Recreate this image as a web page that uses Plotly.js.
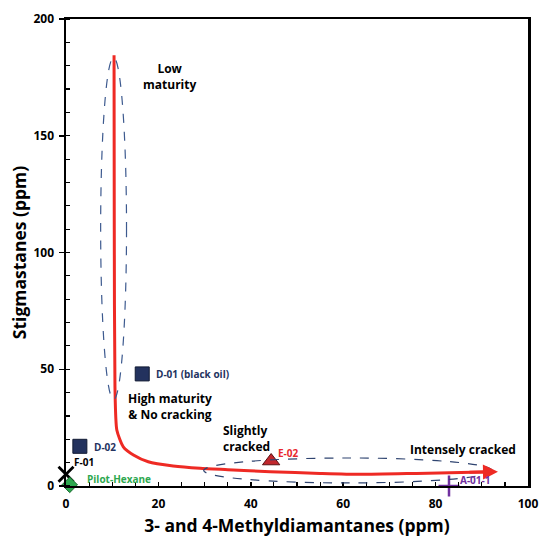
<!DOCTYPE html>
<html>
<head>
<meta charset="utf-8">
<script src="https://cdn.plot.ly/plotly-3.0.1.min.js"></script>
<style>html,body{margin:0;padding:0;background:#fff;}#chart{width:541px;height:537px;}</style>
</head>
<body>
<div id="chart"></div>
<script>
// Samples (points)
const samples = ['D-01 (black oil)', 'D-02', 'F-01', 'Pilot-Hexane', 'E-02', 'A-01-1'];
const methyldiamantanes = [16.5, 3.0, 0.0, 0.8, 44.4, 82.9];
const stigmastanes = [48.0, 17.0, 5.0, 0.5, 10.7, 0.0];

// Trend curve (red)
const trendX = [10.4, 10.45, 10.6, 11.0, 12.4, 14.6, 17.8, 23.2, 29.0, 35.0, 44.2, 55.0, 63.6, 75.9, 90.3];
const trendY = [184.5, 110, 42.4, 24, 16.8, 13.3, 10.4, 8.6, 7.6, 7.0, 6.1, 5.4, 5.0, 5.4, 6.0];

// Axis ticks
const xTicks = [0, 20, 40, 60, 80, 100];
const yTicks = [0, 50, 100, 150, 200];

const FONT = 'Open Sans, DejaVu Sans, sans-serif';
const navy = '#24335f';

const traces = [
  {x: trendX, y: trendY, mode: 'lines', line: {color: '#ee2a24', width: 3, shape: 'spline', smoothing: 0.6}, hoverinfo: 'skip', cliponaxis: false},
  {x: [methyldiamantanes[0], methyldiamantanes[1]], y: [stigmastanes[0], stigmastanes[1]], mode: 'markers',
   marker: {symbol: 'square', size: 14, color: '#23325e', line: {color: '#111a33', width: 1}}, cliponaxis: false},
  {x: [methyldiamantanes[2]], y: [stigmastanes[2]], mode: 'markers',
   marker: {symbol: 'x-thin', size: 15, color: '#000', line: {color: '#000', width: 2.8}}, cliponaxis: false},
  {x: [methyldiamantanes[3]], y: [stigmastanes[3]], mode: 'markers',
   marker: {symbol: 'diamond', size: 12, color: '#2ea84f', line: {color: '#1c6b31', width: 1}}, cliponaxis: false},
  {x: [methyldiamantanes[4]], y: [stigmastanes[4]], mode: 'markers',
   marker: {symbol: 'triangle-up', size: 15, color: '#c1272d', line: {color: '#5a0f12', width: 1}}, cliponaxis: false},
  {x: [methyldiamantanes[5]], y: [stigmastanes[5]], mode: 'markers',
   marker: {symbol: 'cross-thin', size: 15, color: '#7030a0', line: {color: '#7030a0', width: 2.5}}, cliponaxis: false}
];

function lab(i, color, xs, ys, anchor) {
  return {x: methyldiamantanes[i], y: stigmastanes[i], xref: 'x', yref: 'y', text: samples[i], showarrow: false,
    xshift: xs, yshift: ys, xanchor: anchor || 'left', font: {family: FONT, size: 10, color: color, weight: 'bold'}};
}
function note(x, y, text, anchor) {
  return {x: x, y: y, xref: 'x', yref: 'y', text: text, showarrow: false, xanchor: anchor || 'center',
    align: anchor === 'left' ? 'left' : 'center', font: {family: FONT, size: 12, color: '#000', weight: 'bold'}};
}

const layout = {
  width: 541, height: 537,
  margin: {l: 66, r: 13, t: 19, b: 51},
  paper_bgcolor: '#fff', plot_bgcolor: '#fff',
  showlegend: false,
  font: {family: FONT, color: '#000'},
  xaxis: {range: [0, 100], tickvals: xTicks, ticks: 'inside', ticklen: 4, tickwidth: 1.5, tickcolor: '#000',
    minor: {dtick: 5, ticks: 'inside', ticklen: 4, tickwidth: 1.2, tickcolor: '#000'},
    showgrid: false, zeroline: false, showline: true, linecolor: '#000', linewidth: 2, mirror: true,
    ticklabelstandoff: 6,
    tickfont: {family: FONT, size: 12, weight: 'bold'},
    title: {text: '3- and 4-Methyldiamantanes (ppm)', font: {family: FONT, size: 17.5, weight: 'bold'}, standoff: 8}},
  yaxis: {range: [0, 200], tickvals: yTicks, ticks: 'outside', ticklen: 5, tickwidth: 1.5, tickcolor: '#000',
    minor: {dtick: 10, ticks: 'inside', ticklen: 4, tickwidth: 1.2, tickcolor: '#000'},
    showgrid: false, zeroline: false, showline: true, linecolor: '#000', linewidth: 2.5, mirror: true,
    ticklabelstandoff: 2,
    tickfont: {family: FONT, size: 12, weight: 'bold'},
    title: {text: 'Stigmastanes (ppm)', font: {family: FONT, size: 17.5, weight: 'bold'}, standoff: 3}},
  shapes: [
    {type: 'circle', xref: 'x', yref: 'y', x0: 7.5, x1: 13.1, y0: 37, y1: 183.5,
     line: {color: '#3d5a8f', width: 1.2, dash: 'dash'}},
    {type: 'circle', xref: 'x', yref: 'y', x0: 29.8, x1: 92.2, y0: 1.3, y1: 12.0,
     line: {color: '#2f4470', width: 1.2, dash: 'dash'}}
  ],
  annotations: [
    {x: 93.5, y: 6.1, ax: 87, ay: 5.9, xref: 'x', yref: 'y', axref: 'x', ayref: 'y', showarrow: true,
     arrowhead: 2, arrowsize: 1, arrowwidth: 3, arrowcolor: '#ee2a24', text: ''},
    note(22.5, 175.5, 'Low<br>maturity'),
    note(22.5, 34, 'High maturity<br>&amp; No cracking'),
    note(33.5, 20.5, 'Slightly<br>cracked', 'left'),
    note(86, 15.8, 'Intensely cracked'),
    lab(0, navy, 12, 0),
    lab(1, navy, 12, -1),
    lab(2, '#000', 6, 12),
    lab(3, '#2ea84f', 15, 6),
    lab(4, '#e8282e', 5, 8),
    lab(5, '#7030a0', 9, 6)
  ]
};

Plotly.newPlot('chart', traces, layout, {displayModeBar: false, staticPlot: true});
</script>
</body>
</html>
